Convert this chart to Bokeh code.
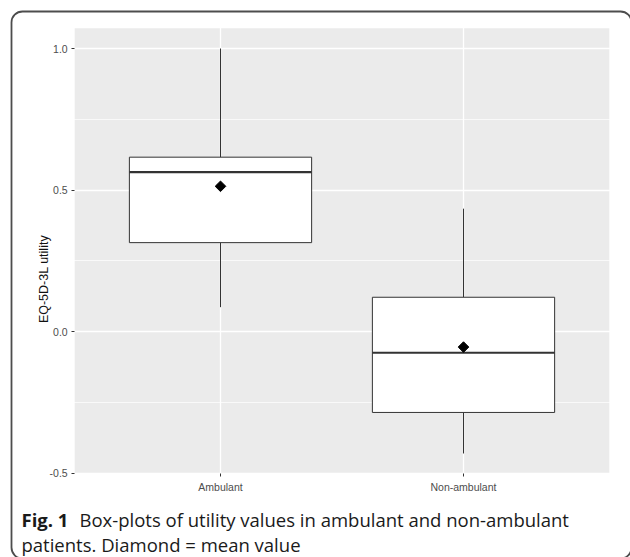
import math
from bokeh.plotting import figure
from bokeh.models import (FixedTicker, Label, BoxAnnotation, ColumnDataSource,
                          PrintfTickFormatter, Range1d)
from bokeh.embed import file_html
from bokeh.resources import INLINE

# ---- data ----
categories = ["Ambulant", "Non-ambulant"]
whisker_low = [0.086, -0.431]
q1 = [0.314, -0.286]
median = [0.563, -0.075]
q3 = [0.616, 0.121]
whisker_high = [1.0, 0.434]
means = [0.513, -0.055]
y_ticks = [-0.5, 0.0, 0.5, 1.0]
y_minor = [-0.25, 0.25, 0.75]
y_title = "EQ-5D-3L utility"
caption_bold = "Fig. 1"
caption_line1 = "Box-plots of utility values in ambulant and non-ambulant"
caption_line2 = "patients. Diamond = mean value"

# ---- layout (pixels of the 630x557 picture) ----
W, H = 630, 557
X1_PX, PX_PER_X = 220.0, 243.0       # where category 1 sits, px per category step
Y1_PX, PX_PER_Y = 48.0, 283.0        # where y=1.0 sits, px per unit

pos = [i + 1 for i in range(len(categories))]
half = 0.375

# panel limits (ggplot style expansion)
x_lo, x_hi = 0.4, len(categories) + 0.6
span = max(whisker_high) - min(whisker_low)
y_lo, y_hi = min(whisker_low) - 0.05 * span, max(whisker_high) + 0.05 * span

# ranges so that the plotting frame covers the whole canvas
xr = Range1d(1 - X1_PX / PX_PER_X, 1 + (W - X1_PX) / PX_PER_X)
yr = Range1d(1 - (H - Y1_PX) / PX_PER_Y, 1 + Y1_PX / PX_PER_Y)

src = ColumnDataSource(dict(
    x=pos,
    left=[p - half for p in pos],
    right=[p + half for p in pos],
    lo=whisker_low, q1=q1, med=median, q3=q3, hi=whisker_high, mean=means,
))

p = figure(width=W, height=H, x_range=xr, y_range=yr,
           output_backend="svg", toolbar_location=None,
           min_border_left=0, min_border_right=0,
           min_border_top=0, min_border_bottom=0)
p.background_fill_color = "white"
p.border_fill_color = "white"
p.outline_line_color = None

# grey panel (under the grid)
p.quad(left=[x_lo], right=[x_hi], bottom=[y_lo], top=[y_hi],
       fill_color="#EBEBEB", line_color=None, level="image")

# axes fixed on the panel edges
p.xaxis.fixed_location = y_lo
p.yaxis.fixed_location = x_lo
p.xaxis.ticker = FixedTicker(ticks=pos)
p.xaxis.major_label_overrides = {pp: c for pp, c in zip(pos, categories)}
p.yaxis.ticker = FixedTicker(ticks=y_ticks, minor_ticks=y_minor)
p.yaxis.formatter = PrintfTickFormatter(format="%.1f")
for ax in (p.xaxis[0], p.yaxis[0]):
    ax.axis_line_color = None
    ax.major_tick_line_color = "#333333"
    ax.major_tick_out = 3
    ax.major_tick_in = 0
    ax.minor_tick_line_color = None
    ax.major_label_text_font = "Liberation Sans"
    ax.major_label_text_font_size = "10.5px"
    ax.major_label_text_color = "#4d4d4d"
p.xaxis.major_label_standoff = 4
p.yaxis.major_label_standoff = 3
p.yaxis.axis_label = y_title
p.yaxis.axis_label_text_font = "Liberation Sans"
p.yaxis.axis_label_text_font_size = "12.5px"
p.yaxis.axis_label_text_font_style = "normal"
p.yaxis.axis_label_text_color = "#111111"
p.yaxis.axis_label_standoff = -5

# grids
p.xgrid.ticker = FixedTicker(ticks=pos)
p.ygrid.ticker = FixedTicker(ticks=y_ticks, minor_ticks=y_minor)
p.xgrid.grid_line_color = "white"
p.ygrid.grid_line_color = "white"
p.xgrid.grid_line_width = 1.3
p.ygrid.grid_line_width = 1.3
p.ygrid.minor_grid_line_color = "white"
p.ygrid.minor_grid_line_width = 0.7

# boxplots
p.segment(x0="x", y0="q3", x1="x", y1="hi", source=src, line_color="#333333", line_width=1)
p.segment(x0="x", y0="q1", x1="x", y1="lo", source=src, line_color="#333333", line_width=1)
p.quad(left="left", right="right", top="q3", bottom="q1", source=src,
       fill_color="white", line_color="#333333", line_width=1)
p.segment(x0="left", y0="med", x1="right", y1="med", source=src,
          line_color="#333333", line_width=2.2)
p.scatter(x="x", y="mean", source=src, marker="square", angle=math.pi / 4,
          size=7.5, fill_color="black", line_color="black")

# rounded frame around everything
frame = BoxAnnotation(left=11, right=631, top=11, bottom=558,
                      left_units="canvas", right_units="canvas",
                      top_units="canvas", bottom_units="canvas",
                      fill_color=None, fill_alpha=0,
                      line_color="#4d4d4d", line_alpha=1.0, line_width=1.8,
                      border_radius=11)
p.add_layout(frame)

# caption
cap_font = "Open Sans"
cap_size = "18.5px"
p.add_layout(Label(x=21, y=519, x_units="canvas", y_units="canvas", text=caption_bold,
                   text_font=cap_font, text_font_style="bold", text_font_size=cap_size,
                   text_color="#1a1a1a", text_baseline="alphabetic"))
p.add_layout(Label(x=79, y=519, x_units="canvas", y_units="canvas", text=caption_line1,
                   text_font=cap_font, text_font_size=cap_size,
                   text_color="#1a1a1a", text_baseline="alphabetic"))
p.add_layout(Label(x=21, y=544, x_units="canvas", y_units="canvas", text=caption_line2,
                   text_font=cap_font, text_font_size=cap_size,
                   text_color="#1a1a1a", text_baseline="alphabetic"))

open("out.html", "w").write(file_html(p, INLINE))
